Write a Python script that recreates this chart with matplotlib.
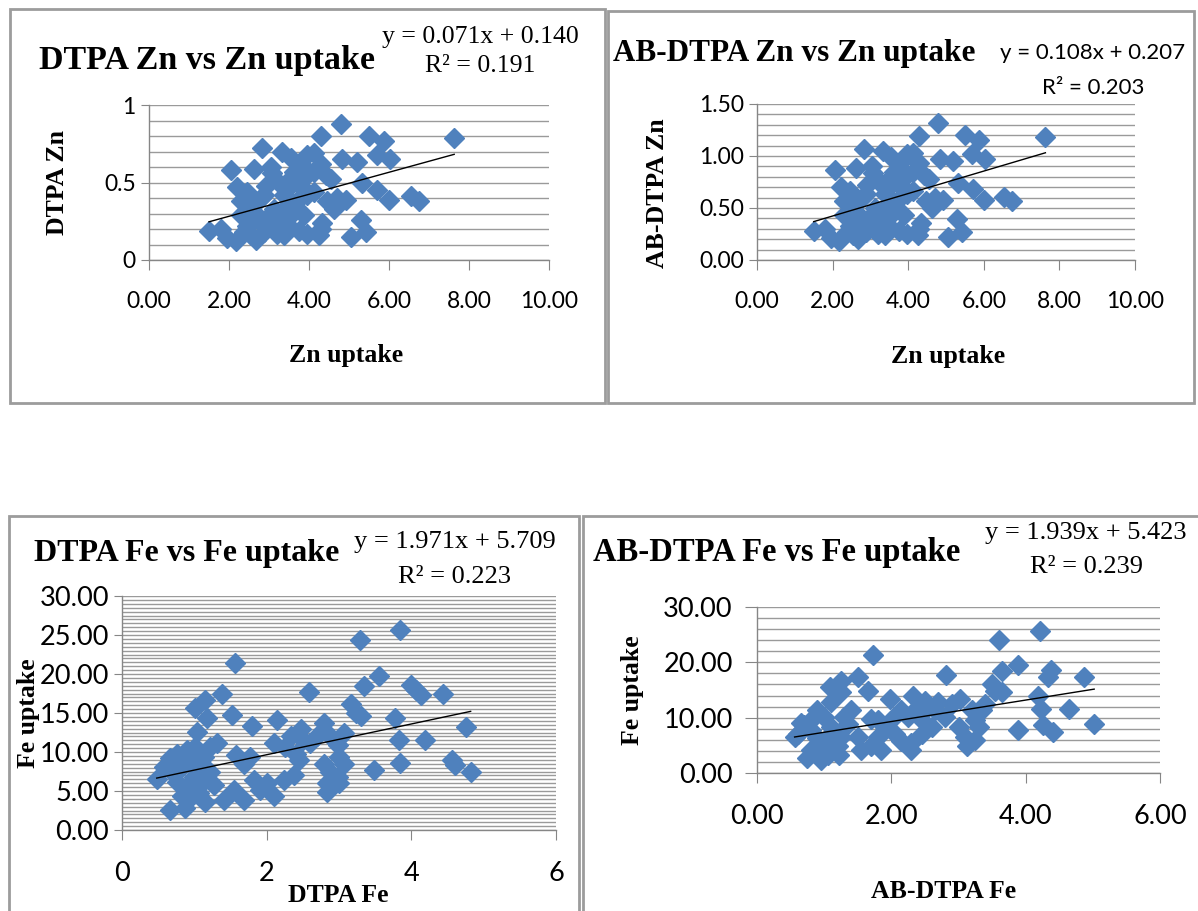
import matplotlib
matplotlib.use("Agg")
import numpy as np
from matplotlib import pyplot as plt
from matplotlib.patches import Rectangle
from matplotlib.ticker import MultipleLocator

W, H = 1198, 911
BLUE = "#4F81BD"
GRID = "#9a9a9a"
AXIS = "#868686"
SERIF = "Liberation Serif"
SANS = "Lato"

# Zn data (x = Zn uptake for both Zn panels)
zn_uptake = [4.79, 7.63, 4.29, 5.50, 5.88, 2.83, 3.33, 4.83, 5.19, 5.69,
             6.02, 3.96, 4.12, 3.54, 3.79, 2.06, 2.63, 3.08, 3.63, 4.29,
             4.42, 4.54, 3.96, 5.33, 2.21, 2.46, 2.92, 3.21, 3.46, 3.79,
             4.12, 4.71, 4.92, 5.71, 6.00, 6.54, 6.75, 2.29, 2.54, 2.79,
             3.13, 3.38, 3.71, 4.46, 4.63, 2.71, 2.96, 3.29, 3.63, 3.88,
             4.33, 5.29, 1.50, 1.79, 1.96, 2.17, 2.38, 2.54, 2.67, 2.88,
             3.04, 3.21, 3.38, 3.75, 3.96, 4.25, 4.29, 5.04, 5.42, 3.08,
             2.46, 3.46, 2.79, 2.29, 2.88, 3.38, 3.96, 3.54, 3.04, 4.12]
dtpa_zn = [0.88, 0.79, 0.80, 0.80, 0.77, 0.72, 0.70, 0.65, 0.63, 0.68,
           0.65, 0.68, 0.69, 0.66, 0.62, 0.58, 0.59, 0.56, 0.57, 0.62,
           0.55, 0.52, 0.55, 0.50, 0.47, 0.44, 0.48, 0.51, 0.46, 0.48,
           0.44, 0.40, 0.39, 0.45, 0.39, 0.41, 0.38, 0.38, 0.35, 0.40,
           0.33, 0.33, 0.38, 0.38, 0.33, 0.29, 0.27, 0.29, 0.31, 0.29,
           0.24, 0.26, 0.19, 0.20, 0.14, 0.12, 0.18, 0.16, 0.13, 0.18,
           0.23, 0.17, 0.16, 0.19, 0.17, 0.16, 0.20, 0.15, 0.18, 0.22,
           0.22, 0.23, 0.24, 0.29, 0.42, 0.42, 0.42, 0.53, 0.60, 0.57]
ab_dtpa_zn = [1.32, 1.18, 1.19, 1.20, 1.15, 1.07, 1.05, 0.97, 0.95, 1.02,
              0.97, 1.02, 1.03, 0.99, 0.93, 0.87, 0.88, 0.84, 0.85, 0.93,
              0.82, 0.78, 0.82, 0.74, 0.70, 0.66, 0.72, 0.76, 0.69, 0.72,
              0.66, 0.60, 0.58, 0.68, 0.58, 0.61, 0.57, 0.57, 0.52, 0.60,
              0.50, 0.50, 0.57, 0.57, 0.50, 0.43, 0.40, 0.43, 0.46, 0.43,
              0.36, 0.39, 0.28, 0.30, 0.21, 0.18, 0.27, 0.24, 0.20, 0.27,
              0.34, 0.25, 0.24, 0.28, 0.25, 0.24, 0.30, 0.22, 0.27, 0.33,
              0.33, 0.34, 0.36, 0.43, 0.63, 0.63, 0.63, 0.80, 0.90, 0.85]

# Fe data, DTPA panel
dtpa_fe = [3.85, 3.29, 1.56, 3.55, 3.34, 2.58, 1.38, 3.99, 4.06, 4.13,
           4.44, 1.15, 1.01, 1.17, 1.52, 3.16, 3.23, 3.30, 3.78, 4.75,
           1.80, 2.14, 1.04, 3.83, 4.19, 3.85, 3.48, 4.56, 4.61, 4.82,
           2.79, 2.88, 3.07, 2.47, 2.33, 2.50, 2.69, 2.10, 2.25, 2.40,
           2.98, 3.00, 2.45, 2.60, 2.79, 2.88, 2.98, 2.84, 2.84, 3.00,
           3.07, 2.38, 2.24, 2.10, 2.00, 1.91, 1.82, 1.77, 1.68, 1.57,
           1.68, 1.41, 1.55, 1.27, 1.22, 1.31, 1.22, 1.01, 0.90, 0.76,
           0.67, 0.58, 0.48, 0.69, 0.83, 0.94, 1.06, 1.13, 0.76, 0.90,
           0.99, 1.10, 0.83, 0.97, 1.15, 0.67, 0.87, 1.06]
fe_uptake = [25.6, 24.4, 21.4, 19.7, 18.5, 17.7, 17.4, 18.6, 17.9, 17.3,
             17.4, 16.7, 15.6, 14.3, 14.7, 16.2, 15.0, 14.6, 14.3, 13.2,
             13.3, 14.1, 12.6, 11.6, 11.5, 8.6, 7.7, 9.0, 8.3, 7.4,
             13.7, 12.0, 12.4, 13.0, 12.0, 11.5, 12.0, 11.1, 10.7, 9.8,
             10.9, 9.4, 9.0, 11.1, 8.5, 7.5, 6.8, 6.0, 4.9, 6.0,
             8.5, 7.1, 6.4, 4.3, 6.0, 5.1, 6.4, 9.4, 8.5, 9.6,
             3.8, 3.8, 5.1, 5.8, 7.5, 11.1, 10.7, 10.7, 10.3, 9.8,
             9.2, 8.1, 6.6, 7.5, 8.1, 9.0, 8.5, 9.4, 6.2, 5.6,
             6.8, 6.0, 4.3, 4.3, 3.6, 2.6, 2.8, 4.7]

# Fe data, AB-DTPA panel
ab_dtpa_fe = [4.21, 3.61, 1.73, 3.89, 3.65, 2.82, 1.50, 4.38, 4.33, 4.87,
              1.25, 1.08, 1.25, 1.65, 3.50, 3.55, 3.65, 4.18, 1.98, 2.33,
              1.10, 4.23, 4.64, 3.88, 4.26, 4.41, 5.02, 3.02, 2.90, 2.70,
              2.55, 2.35, 2.25, 2.45, 2.65, 2.80, 2.60, 2.45, 2.30, 2.30,
              2.15, 2.05, 2.00, 1.90, 1.80, 1.70, 1.80, 1.70, 1.85, 1.55,
              1.50, 1.40, 1.35, 1.25, 1.20, 1.22, 1.10, 1.00, 0.90, 0.80,
              0.70, 0.61, 0.56, 0.80, 0.90, 1.05, 1.00, 0.80, 0.95, 0.75,
              1.05, 3.10, 3.12, 3.25, 3.30, 3.25, 3.35, 3.20, 3.00, 3.40,
              2.15, 1.30, 0.65, 2.50]
fe_uptake_ab = [25.6, 24.1, 21.3, 19.6, 18.5, 17.7, 17.4, 18.6, 17.3, 17.4,
                16.7, 15.5, 14.6, 14.9, 16.1, 14.9, 14.6, 14.0, 13.4, 14.0,
                12.8, 11.6, 11.6, 7.7, 8.6, 7.4, 8.9, 13.4, 12.5, 12.8,
                11.9, 11.3, 10.1, 9.5, 11.3, 10.1, 8.3, 7.1, 5.4, 4.2,
                5.7, 7.1, 9.5, 8.3, 9.5, 9.8, 6.5, 4.8, 4.2, 4.2,
                6.5, 11.3, 8.9, 6.5, 4.8, 3.3, 8.3, 10.1, 11.3, 9.5,
                8.6, 7.1, 6.5, 7.7, 6.3, 6.5, 4.8, 4.2, 2.4, 2.7,
                3.3, 6.5, 4.8, 6.0, 8.3, 9.5, 11.3, 11.3, 8.3, 12.5,
                11.3, 10.1, 9.0, 13.0]

# trendline coefficients shown in the charts
fits = [(0.071, 0.140, "0.191"), (0.108, 0.207, "0.203"),
        (1.971, 5.709, "0.223"), (1.939, 5.423, "0.239")]

zn_xticks = [0, 2, 4, 6, 8, 10]
zn_xlabels = ["0.00", "2.00", "4.00", "6.00", "8.00", "10.00"]
p1_yticks, p1_ylabels = [0, 0.5, 1], ["0", "0.5", "1"]
p2_yticks, p2_ylabels = [0, 0.5, 1.0, 1.5], ["0.00", "0.50", "1.00", "1.50"]
p3_xticks, p3_xlabels = [0, 2, 4, 6], ["0", "2", "4", "6"]
p3_yticks = [0, 5, 10, 15, 20, 25, 30]
p3_ylabels = ["0.00", "5.00", "10.00", "15.00", "20.00", "25.00", "30.00"]
p4_xticks, p4_xlabels = [0, 2, 4, 6], ["0.00", "2.00", "4.00", "6.00"]
p4_yticks, p4_ylabels = [0, 10, 20, 30], ["0.00", "10.00", "20.00", "30.00"]


def fx(x):
    return x / W


def fy(y):
    return 1 - y / H


def border(fig, x0, y0, x1, y1):
    fig.patches.append(Rectangle((fx(x0), fy(y1)), fx(x1 - x0), (y1 - y0) / H,
                                 transform=fig.transFigure, fill=False,
                                 edgecolor="#9c9c9c", linewidth=2.0, zorder=0))


def panel(fig, box, x, y, fit, xt, xl, yt, yl, minor, tsize, ylen=5.5, ypad=4):
    x0, y0, x1, y1 = box
    ax = fig.add_axes([fx(x0), fy(y1), fx(x1 - x0), (y1 - y0) / H])
    ax.set_xlim(xt[0], xt[-1])
    ax.set_ylim(yt[0], yt[-1])
    ax.set_xticks(xt, xl)
    ax.set_yticks(yt, yl)
    ax.yaxis.set_minor_locator(MultipleLocator(minor))
    ax.grid(True, axis="y", which="both", color=GRID, linewidth=1.0)
    ax.set_axisbelow(True)
    for s in ("top", "right"):
        ax.spines[s].set_visible(False)
    for s in ("left", "bottom"):
        ax.spines[s].set_color(AXIS)
        ax.spines[s].set_linewidth(1.0)
    ax.tick_params(axis="x", length=7, color=AXIS, pad=15, labelsize=tsize)
    ax.tick_params(axis="y", length=ylen, color=AXIS, pad=ypad, labelsize=tsize)
    ax.tick_params(which="minor", length=0)
    for lab in ax.get_xticklabels() + ax.get_yticklabels():
        lab.set_fontfamily(SANS)
    ax.plot(x, y, "D", color=BLUE, mec=BLUE, ms=10.5, ls="none", zorder=3,
            clip_on=False)
    m, b, r2 = fit
    xs = np.array([min(x), max(x)])
    ax.plot(xs, m * xs + b, color="black", linewidth=1.0, zorder=4)
    return ax


def eq_text(fig, cx, y1, y2, fit, family, size):
    m, b, r2 = fit
    fig.text(fx(cx), fy(y1), "y = {:.3f}x + {:.3f}".format(m, b),
             ha="center", va="center", family=family, fontsize=size)
    fig.text(fx(cx), fy(y2), "R² = " + r2,
             ha="center", va="center", family=family, fontsize=size)


fig = plt.figure(figsize=(W / 100, H / 100), dpi=100)

border(fig, 10, 9, 605, 403)
border(fig, 608, 11, 1194, 403)
border(fig, 9, 516, 579, 920)
border(fig, 583, 516, 1205, 920)

# DTPA Zn vs Zn uptake
panel(fig, (149, 105, 549, 260), zn_uptake, dtpa_zn, fits[0],
      zn_xticks, zn_xlabels, p1_yticks, p1_ylabels, 0.1, 16.5)
fig.text(fx(207), fy(60), "DTPA Zn vs Zn uptake", ha="center", va="center",
         family=SERIF, weight="bold", fontsize=24.5)
eq_text(fig, 480, 37, 66, fits[0], SERIF, 18.5)
fig.text(fx(346), fy(355), "Zn uptake", ha="center", va="center",
         family=SERIF, weight="bold", fontsize=18.5)
fig.text(fx(58), fy(183), "DTPA Zn", ha="center", va="center", rotation=90,
         family=SERIF, weight="bold", fontsize=18.5)

# AB-DTPA Zn vs Zn uptake
panel(fig, (757, 104, 1135, 260), zn_uptake, ab_dtpa_zn, fits[1],
      zn_xticks, zn_xlabels, p2_yticks, p2_ylabels, 0.1, 16.5)
fig.text(fx(794), fy(53), "AB-DTPA Zn vs Zn uptake", ha="center",
         va="center", family=SERIF, weight="bold", fontsize=22.5)
eq_text(fig, 1093, 53, 88, fits[1], SANS, 16)
fig.text(fx(948), fy(357), "Zn uptake", ha="center", va="center",
         family=SERIF, weight="bold", fontsize=18.5)
fig.text(fx(658), fy(193), "AB-DTPA Zn", ha="center", va="center",
         rotation=90, family=SERIF, weight="bold", fontsize=18.5)

# DTPA Fe vs Fe uptake
panel(fig, (122, 596, 556, 830), dtpa_fe, fe_uptake, fits[2],
      p3_xticks, p3_xlabels, p3_yticks, p3_ylabels, 0.5, 19.5)
fig.text(fx(187), fy(553), "DTPA Fe vs Fe uptake", ha="center", va="center",
         family=SERIF, weight="bold", fontsize=23)
eq_text(fig, 455, 542, 577, fits[2], SERIF, 19)
fig.text(fx(338), fy(896), "DTPA Fe", ha="center", va="center",
         family=SERIF, weight="bold", fontsize=18.5)
fig.text(fx(28), fy(713), "Fe uptake", ha="center", va="center", rotation=90,
         family=SERIF, weight="bold", fontsize=18.5)

# AB-DTPA Fe vs Fe uptake
panel(fig, (757, 607, 1160, 773), ab_dtpa_fe, fe_uptake_ab, fits[3],
      p4_xticks, p4_xlabels, p4_yticks, p4_ylabels, 2, 19.5, ylen=8.5, ypad=9)
fig.text(fx(777), fy(553), "AB-DTPA Fe vs Fe uptake", ha="center",
         va="center", family=SERIF, weight="bold", fontsize=23.5)
eq_text(fig, 1086, 533, 567, fits[3], SERIF, 19)
fig.text(fx(944), fy(892), "AB-DTPA Fe", ha="center", va="center",
         family=SERIF, weight="bold", fontsize=18.5)
fig.text(fx(633), fy(690), "Fe uptake", ha="center", va="center",
         rotation=90, family=SERIF, weight="bold", fontsize=18.5)

fig.savefig("out.png", dpi=100)
